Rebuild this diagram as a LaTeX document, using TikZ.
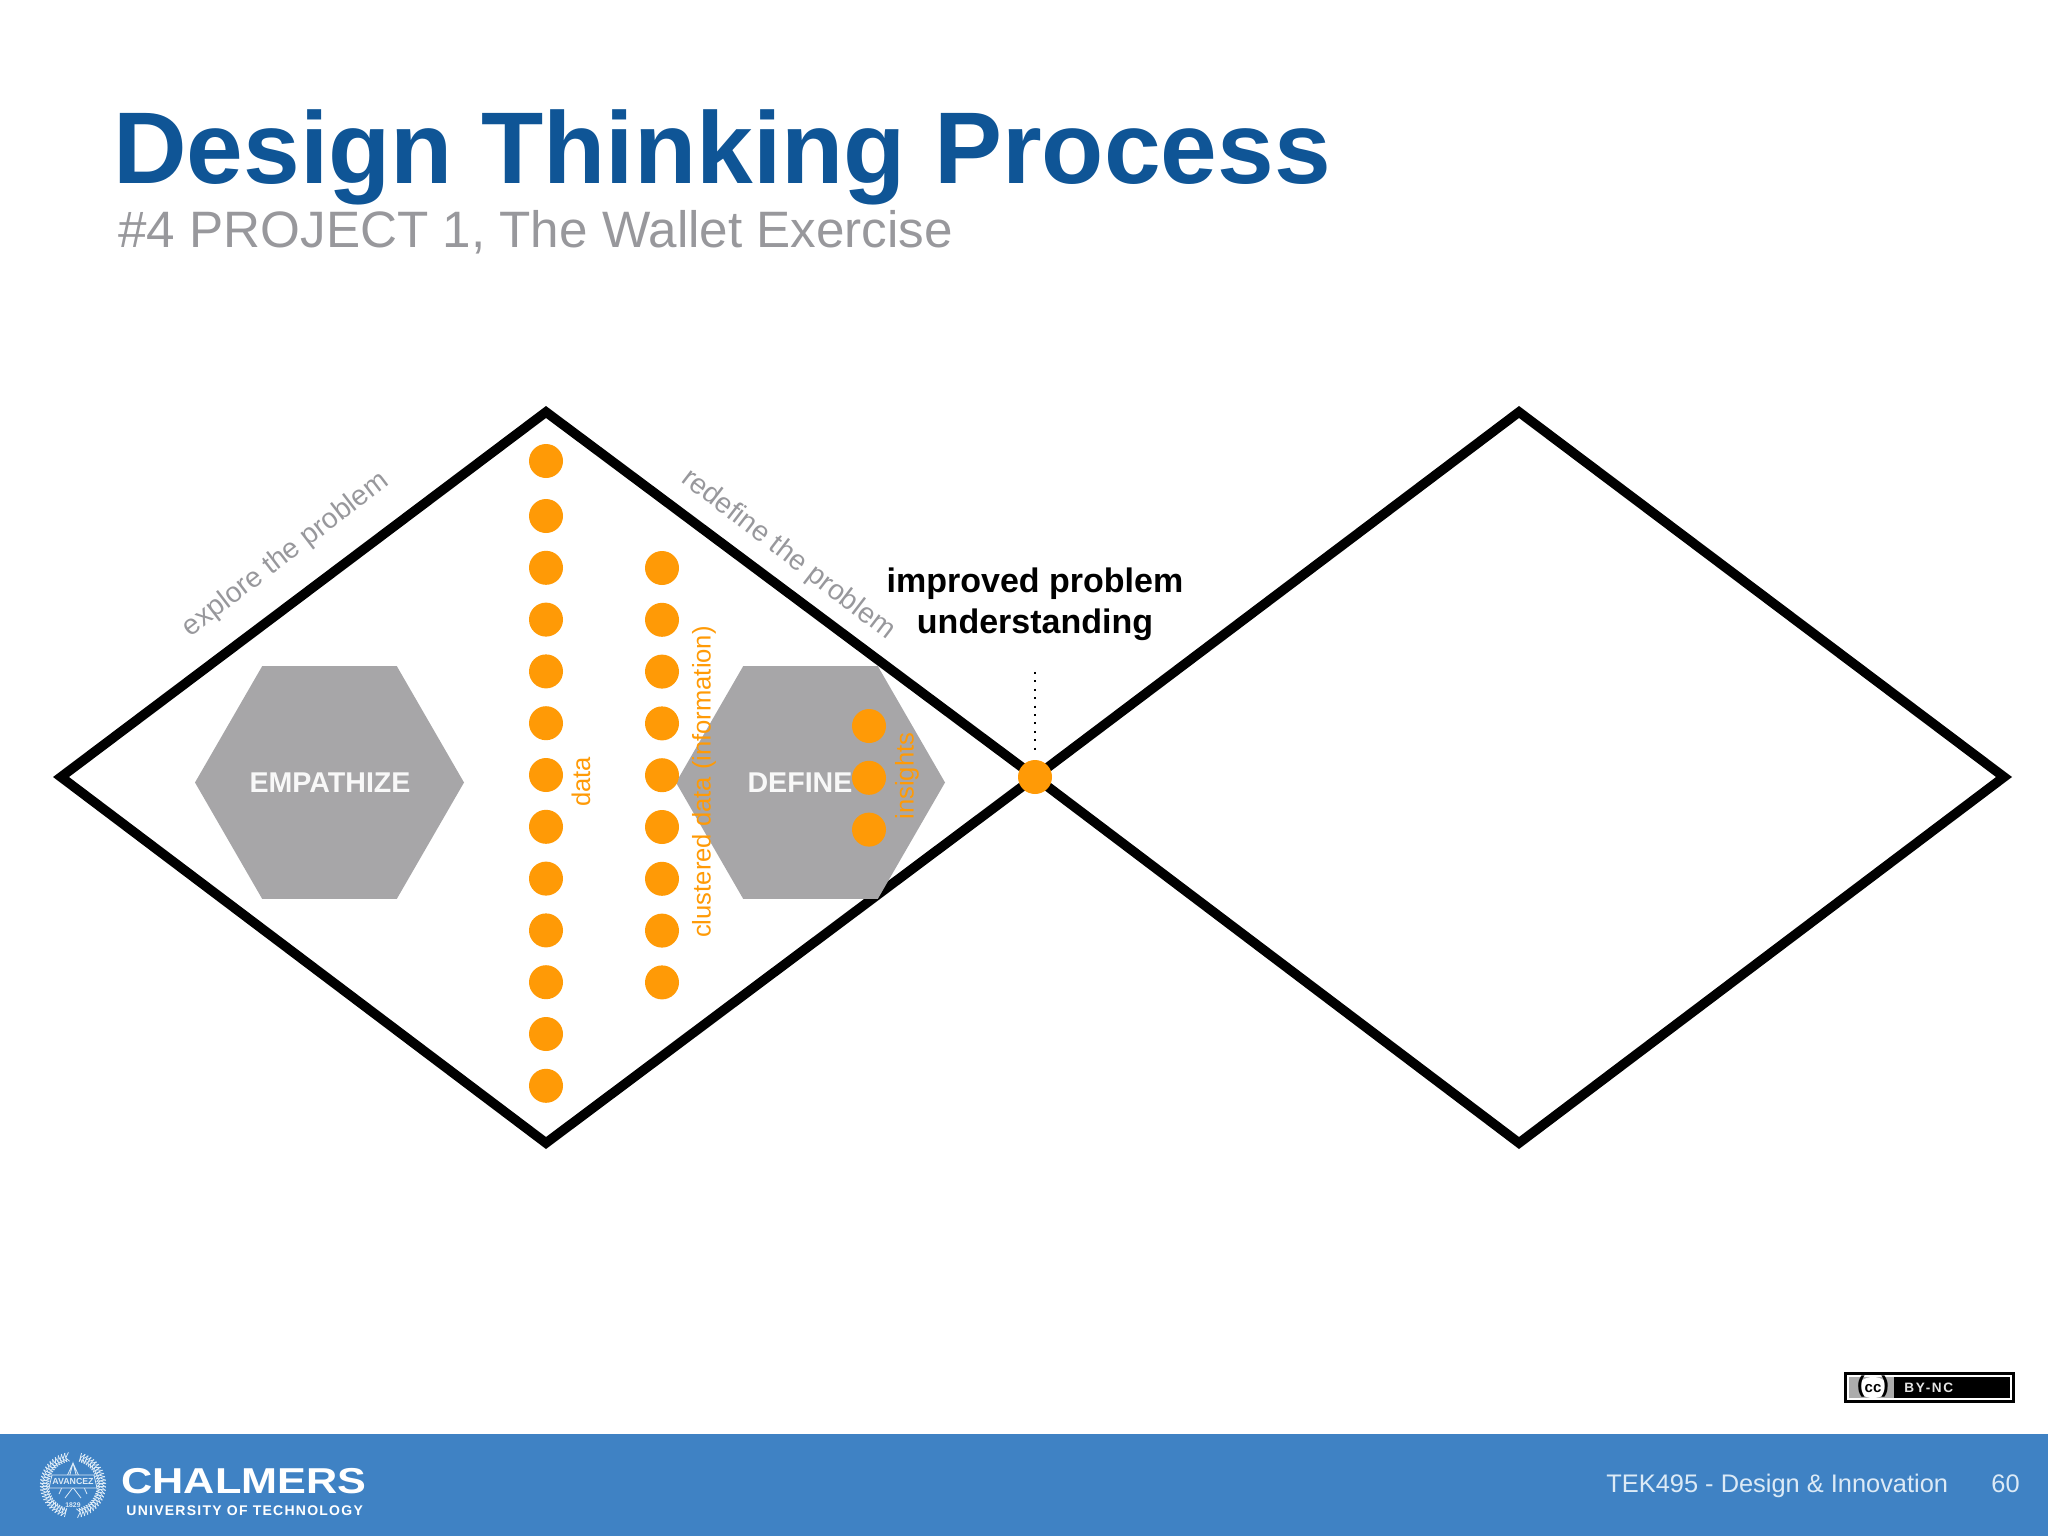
\documentclass[tikz,border=0pt]{standalone}
\usepackage{fontspec}
\setmainfont{Liberation Sans}
\usetikzlibrary{positioning,shapes.geometric}
\definecolor{titleblue}{HTML}{0F5596}
\definecolor{subgray}{HTML}{98989C}
\definecolor{hexgray}{HTML}{A7A6A8}
\definecolor{dotorange}{HTML}{FF9A06}
\definecolor{barblue}{HTML}{3F82C4}
\definecolor{barpale}{HTML}{DCEAF6}
\newcommand{\fsize}[1]{\fontsize{#1pt}{#1pt}\selectfont}
\tikzset{
  outline/.style={line width=4.8pt,black,line join=miter},
  dot/.style={circle,fill=dotorange,minimum size=17pt,inner sep=0pt},
  hexbox/.style={regular polygon,regular polygon sides=6,fill=hexgray,minimum size=134.5pt,inner sep=0pt},
  hexlabel/.style={font=\fsize{14.3}\bfseries,text=white!92!hexgray,inner sep=0pt},
  edgelabel/.style={font=\fsize{14.2},text=subgray,inner sep=0pt},
  dotlabel/.style={font=\fsize{12.8},text=dotorange,rotate=90,inner sep=0pt},
  footer/.style={font=\fsize{12.7},text=barpale,inner sep=0pt,anchor=base west},
}
\begin{document}
\begin{tikzpicture}[x=0.5pt,y=-0.5pt]
\useasboundingbox (0,0) rectangle (2048,1536);
% title
\node[anchor=base west,inner sep=0pt,font=\fsize{50.95}\bfseries,text=titleblue] (title) at (113,183) {Design Thinking Process};
\node[anchor=base west,inner sep=0pt,font=\fsize{25.6},text=subgray] (subtitle) at (118,247) {\#4 PROJECT 1, The Wallet Exercise};
% the two diamonds
\coordinate (lleft) at (61,777);
\coordinate (ltop) at (546,412);
\coordinate (lbot) at (546,1143);
\coordinate (mid) at (1035,777);
\coordinate (rtop) at (1519,412);
\coordinate (rbot) at (1519,1143);
\coordinate (rright) at (2004,777);
\draw[outline] (lleft) -- (ltop) -- (mid) -- (lbot) -- cycle;
\draw[outline] (mid) -- (rtop) -- (rright) -- (rbot) -- cycle;
% hexagons
\node[hexbox] (empathize) at (329.5,782.5) {};
\node[hexbox] (define) at (810.5,782.5) {};
\node[hexlabel] (emptext) at (330,783) {EMPATHIZE};
\node[hexlabel] (deftext) at (800,783) {DEFINE};
% labels on the edges
\node[edgelabel,rotate=37.5] (explore) at (286,555) {explore the problem};
\node[edgelabel,rotate=-37.5] (redefine) at (788,555) {redefine the problem};
% dots
\node[dot] (datatop) at (546,461) {};
\foreach \i in {0,...,11}
  \node[dot] (data\i) at (546,{516+\i*51.8}) {};
\foreach \i in {0,...,8}
  \node[dot] (clust\i) at (662,{568+\i*51.8}) {};
\foreach \i in {0,1,2}
  \node[dot] (ins\i) at (869,{726+\i*51.8}) {};
\node[dotlabel] (datatext) at (581,782) {data};
\node[dotlabel] (clusttext) at (704,782) {clustered data (information)};
\node[dotlabel] (instext) at (907,776) {insights};
% middle point
\node[dot] (hub) at (mid) {};
\node[align=center,inner sep=0pt,font=\fontsize{17}{20.2}\selectfont\bfseries,anchor=base] (improved) at (1035,633) {improved problem\\understanding};
\coordinate (dotfree) at (1035,672);
\draw[line width=0.9pt,dash pattern=on 1pt off 3.2pt,shorten >=4pt] (dotfree) -- (hub);
% footer bar
\fill[barblue] (0,1434) rectangle (2048,1536);
\node[footer] (course) at (1606,1492) {TEK495 - Design \& Innovation};
\node[footer] (page) at (1991,1492) {60};
\node[anchor=base west,inner sep=0pt,font=\fsize{18}\bfseries,text=white,xscale=1.2] (chalmers) at (121,1493) {CHALMERS};
\node[anchor=base west,inner sep=0pt,font=\fsize{7}\bfseries\addfontfeature{LetterSpace=9},text=white] (uni) at (126,1515) {UNIVERSITY OF TECHNOLOGY};
% seal
\begin{scope}[shift={(73,1485)},barpale,line width=0.4pt]
\foreach \a in {-255,-249,...,-105,-75,-69,...,75}
  \draw (\a:28) -- (\a+7:33) (\a:28) -- (\a+7:24) (\a:24) -- (\a:33);
\draw (-14,9) -- (0,-22) -- (14,9) (-8,-8) -- (8,13) (8,-8) -- (-8,13) (-5,-3) -- (0,-22) -- (5,-3);
\fill[barblue] (-21,-10) -- (21,-10) -- (24,3) -- (-24,3) -- cycle;
\draw (-21,-10) -- (21,-10) -- (24,3) -- (-24,3) -- cycle;
\node[inner sep=0pt,font=\fsize{4.4}\bfseries,text=barpale] (motto) at (0,-3.5) {AVANCEZ};
\node[inner sep=0pt,font=\fsize{3.4}\bfseries,text=barpale] (year) at (0,20) {1829};
\end{scope}
% cc badge
\fill[black] (1844,1372) rectangle (2015,1403);
\fill[white] (1847,1375) rectangle (2012,1400);
\fill[black] (1849,1377) rectangle (2010,1398);
\fill[gray!65] (1849,1377) rectangle (1894,1398);
\fill[white] (1873,1387.5) ellipse (15 and 10.5);
\node[inner sep=0pt,font=\bfseries] (cc) at (1873,1386.5) {\fsize{11.5}({\fsize{7.5}cc})};
\node[anchor=west,inner sep=0pt,font=\fsize{6.8}\bfseries\addfontfeature{LetterSpace=12},text=white!90!black] (byn) at (1904,1388) {BY-NC};
\end{tikzpicture}
\end{document}
